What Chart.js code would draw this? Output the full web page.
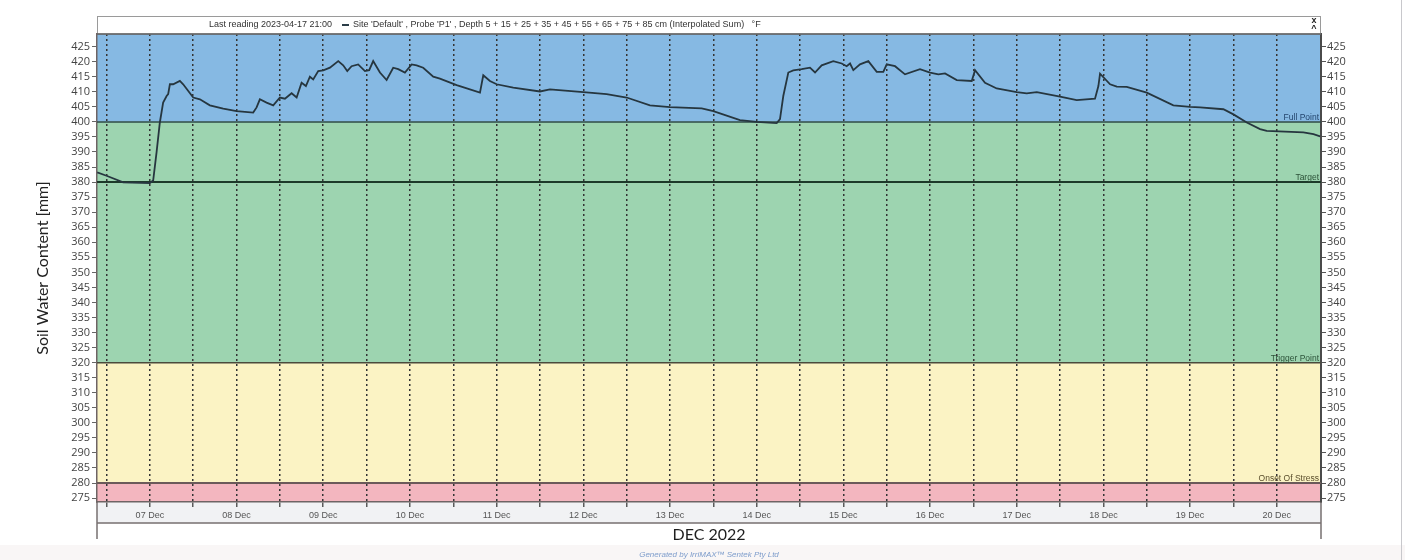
<!DOCTYPE html>
<html>
<head>
<meta charset="utf-8">
<script src="https://cdn.jsdelivr.net/npm/chart.js@4.4.0/dist/chart.umd.min.js"></script>
<style>
    html, body { margin: 0; padding: 0; background: #ffffff; }
    #graficoSoilWaterCanvas { display: block; }
</style>
</head>
<body>
<canvas id="graficoSoilWaterCanvas" width="1405" height="560"></canvas>
<script>
// readings: day of December 2022 (decimal) and soil water content in mm
const readingDays = [6.392, 6.5, 6.692, 7.0, 7.038, 7.077, 7.115, 7.153, 7.193, 7.211, 7.231, 7.269, 7.346, 7.384, 7.5, 7.577, 7.692, 7.846, 8.0, 8.192,
    8.231, 8.269, 8.346, 8.423, 8.5, 8.558, 8.635, 8.693, 8.75, 8.8, 8.846, 8.884, 8.942, 9.0, 9.077, 9.173, 9.23, 9.277, 9.327, 9.403,
    9.481, 9.53, 9.576, 9.654, 9.731, 9.807, 9.865, 9.942, 10.02, 10.077, 10.153, 10.269, 10.346, 10.539, 10.808, 10.846, 10.923, 11.0, 11.192, 11.5,
    11.615, 12.0, 12.269, 12.5, 12.769, 13.0, 13.366, 13.5, 13.807, 14.0, 14.231, 14.269, 14.307, 14.365, 14.422, 14.519, 14.615, 14.673, 14.75, 14.884,
    14.981, 15.038, 15.077, 15.115, 15.192, 15.288, 15.385, 15.461, 15.5, 15.596, 15.711, 15.884, 16.0, 16.096, 16.173, 16.308, 16.481, 16.519, 16.634, 16.769,
    17.0, 17.115, 17.231, 17.5, 17.692, 17.903, 17.942, 17.961, 18.077, 18.154, 18.269, 18.5, 18.807, 19.0, 19.115, 19.384, 19.5, 19.654, 19.807, 19.884,
    20.307, 20.423, 20.5]

const soilWaterValues = [383.2, 382.1, 379.9, 379.7, 380.5, 389.9, 399.8, 406.4, 408.6, 409.2, 412.5, 412.5, 413.6, 412.5, 408.1, 407.5, 405.5, 404.4, 403.6, 403.1,
    404.8, 407.5, 406.4, 405.5, 408.1, 407.7, 409.5, 408.1, 413.0, 411.9, 415.0, 414.1, 416.9, 417.1, 418.0, 420.2, 418.8, 416.9, 418.5, 419.1,
    416.9, 417.2, 420.2, 416.4, 413.9, 418.0, 417.5, 416.4, 419.1, 418.8, 418.0, 415.0, 414.4, 412.2, 409.7, 415.5, 413.6, 412.5, 411.4, 410.1,
    410.8, 409.9, 409.2, 408.1, 405.5, 404.9, 404.5, 403.6, 400.6, 400.0, 399.6, 400.9, 408.6, 416.4, 417.1, 417.5, 418.0, 416.4, 418.8, 420.2,
    419.4, 418.5, 419.4, 417.2, 419.1, 420.2, 416.6, 416.6, 419.1, 418.5, 415.8, 417.5, 416.4, 415.8, 416.1, 413.9, 413.6, 417.2, 413.0, 411.1,
    409.9, 409.5, 409.9, 408.4, 407.2, 407.7, 411.9, 416.0, 412.5, 411.7, 411.6, 409.7, 405.5, 405.0, 404.8, 404.2, 402.5, 399.8, 397.6, 397.0,
    396.5, 395.9, 395.2]

// x axis: day numbers with a label, y axis tick values
const tickDays = [7, 8, 9, 10, 11, 12, 13, 14, 15, 16, 17, 18, 19, 20]
const tickDayLabels = ['07 Dec', '08 Dec', '09 Dec', '10 Dec', '11 Dec', '12 Dec', '13 Dec', '14 Dec', '15 Dec', '16 Dec', '17 Dec', '18 Dec', '19 Dec', '20 Dec']
const yTickValues = [275, 280, 285, 290, 295, 300, 305, 310, 315, 320, 325, 330, 335, 340, 345, 350, 355, 360, 365, 370, 375, 380, 385, 390, 395, 400, 405, 410, 415, 420, 425]

// refill / stress thresholds
const thresholdValues = [400, 380, 320, 280]
const thresholdNames = ['Full Point', 'Target', 'Trigger Point', 'Onset Of Stress']

const yMin = 273.7
const yMax = 429.2
const xMin = 6.39
const xMax = 20.51

const thresholdStyles = [
    { color: '#2f4b47', width: 1.5, text: '#24456d' },
    { color: '#1d3a2a', width: 2, text: '#2c5238' },
    { color: '#4b4a3c', width: 1.5, text: '#2c5238' },
    { color: '#6b5a5a', width: 2, text: '#5a4e2c' }
]
const bandFills = ['#86b9e3', '#9dd4b0', '#fbf3c4', '#f3b6bf']

const chartDecorations = {
    id: 'chartDecorations',
    beforeDraw: function (chart) {
        const ctx = chart.ctx
        const area = chart.chartArea
        const y = chart.scales.y
        ctx.save()
        ctx.fillStyle = '#ffffff'
        ctx.fillRect(0, 0, chart.width, chart.height)
        ctx.fillStyle = '#f9f6f6'
        ctx.fillRect(0, 545, chart.width, chart.height - 545)

        // coloured zones: above full point, full..trigger, trigger..stress, below stress
        let edges = [area.top, y.getPixelForValue(thresholdValues[0]), y.getPixelForValue(thresholdValues[2]), y.getPixelForValue(thresholdValues[3]), area.bottom]
        for (let i = 0; i < bandFills.length; i++) {
            ctx.fillStyle = bandFills[i]
            ctx.fillRect(area.left, edges[i], area.right - area.left, edges[i + 1] - edges[i])
        }

        // strip under the plot holding the day labels
        ctx.fillStyle = '#f1f2f4'
        ctx.fillRect(area.left, area.bottom, area.right - area.left, 21)
        ctx.restore()
    },
    beforeDatasetsDraw: function (chart) {
        const ctx = chart.ctx
        const area = chart.chartArea
        const y = chart.scales.y
        ctx.save()
        for (let i = 0; i < thresholdValues.length; i++) {
            let py = y.getPixelForValue(thresholdValues[i])
            ctx.strokeStyle = thresholdStyles[i].color
            ctx.lineWidth = thresholdStyles[i].width
            ctx.beginPath()
            ctx.moveTo(area.left, py)
            ctx.lineTo(area.right, py)
            ctx.stroke()

            ctx.fillStyle = thresholdStyles[i].text
            ctx.font = '8.5px "Liberation Sans", Arial, sans-serif'
            ctx.textAlign = 'right'
            ctx.textBaseline = 'alphabetic'
            ctx.fillText(thresholdNames[i], area.right - 2, py - 2)
        }
        ctx.restore()
    },
    afterDraw: function (chart) {
        const ctx = chart.ctx
        const area = chart.chartArea
        ctx.save()

        // header box with the probe description
        ctx.fillStyle = '#ffffff'
        ctx.fillRect(area.left, 16, area.right - area.left, area.top - 16)
        ctx.strokeStyle = '#9a9a9a'
        ctx.lineWidth = 1
        ctx.strokeRect(area.left + 0.5, 16.5, area.right - area.left - 1, area.top - 16.5)
        ctx.strokeStyle = '#5e5e5e'
        ctx.lineWidth = 1.5
        ctx.beginPath()
        ctx.moveTo(area.left, area.top)
        ctx.lineTo(area.right, area.top)
        ctx.stroke()

        ctx.fillStyle = '#333333'
        ctx.font = '9px "Liberation Sans", Arial, sans-serif'
        ctx.textAlign = 'left'
        ctx.textBaseline = 'middle'
        ctx.fillText('Last reading 2023-04-17 21:00', 209, 25)
        ctx.fillStyle = '#2b3d48'
        ctx.fillRect(342, 24, 7, 2)
        ctx.fillStyle = '#333333'
        ctx.fillText("Site 'Default' , Probe 'P1' , Depth 5 + 15 + 25 + 35 + 45 + 55 + 65 + 75 + 85 cm (Interpolated Sum)   \u00b0F", 353, 25)

        ctx.font = 'bold 9px "Liberation Sans", Arial, sans-serif'
        ctx.textAlign = 'center'
        ctx.fillStyle = '#222222'
        ctx.fillText('x', area.right - 7, 21)
        ctx.fillText('^', area.right - 7, 29)

        // y axis title
        ctx.save()
        ctx.translate(43, (area.top + area.bottom) / 2)
        ctx.rotate(-Math.PI / 2)
        ctx.font = '16px Lato, "Open Sans", sans-serif'
        ctx.fillStyle = '#222222'
        ctx.textAlign = 'center'
        ctx.textBaseline = 'middle'
        ctx.fillText('Soil Water Content [mm]', 0, 0)
        ctx.restore()

        // lines framing the date band and month caption
        ctx.strokeStyle = '#777070'
        ctx.lineWidth = 1.5
        ctx.beginPath()
        ctx.moveTo(area.left, area.bottom + 21)
        ctx.lineTo(area.right, area.bottom + 21)
        ctx.moveTo(area.left, area.bottom)
        ctx.lineTo(area.left, 539)
        ctx.moveTo(area.right, area.bottom)
        ctx.lineTo(area.right, 539)
        ctx.stroke()

        ctx.fillStyle = '#1e1e1e'
        ctx.font = '16px Lato, "Open Sans", sans-serif'
        ctx.textAlign = 'center'
        ctx.textBaseline = 'middle'
        ctx.fillText('DEC 2022', (area.left + area.right) / 2, 535)

        ctx.fillStyle = '#7d9ccb'
        ctx.font = 'italic 8px "Liberation Sans", Arial, sans-serif'
        ctx.fillText('Generated by IrriMAX\u2122 Sentek Pty Ltd', (area.left + area.right) / 2, 555)

        // outer frame on the right
        ctx.strokeStyle = '#c8c8cc'
        ctx.lineWidth = 1
        ctx.beginPath()
        ctx.moveTo(1401.5, 0)
        ctx.lineTo(1401.5, chart.height)
        ctx.stroke()
        ctx.restore()
    }
}

function criarGraficoSoilWater() {
    let dataPoints = []
    for (let i = 0; i < readingDays.length; i++) {
        dataPoints.push({ x: readingDays[i], y: soilWaterValues[i] })
    }

    const graficoSoilWater = new Chart(document.getElementById('graficoSoilWaterCanvas'), {
        type: 'line',
        data: {
            datasets: [{
                label: "Site 'Default' , Probe 'P1'",
                data: dataPoints,
                borderColor: '#26363f',
                borderWidth: 1.8,
                pointRadius: 0,
                pointHoverRadius: 0,
                tension: 0,
                fill: false
            }]
        },
        options: {
            responsive: false,
            animation: false,
            devicePixelRatio: 1,
            layout: {
                padding: { left: 0, right: 0, top: 34, bottom: 0 }
            },
            plugins: {
                legend: { display: false },
                tooltip: { enabled: false }
            },
            scales: {
                x: {
                    type: 'linear',
                    position: 'bottom',
                    min: xMin,
                    max: xMax,
                    afterFit: function (scale) { scale.height = 58 },
                    afterBuildTicks: function (scale) {
                        let ticks = []
                        for (let i = 0; i < tickDays.length; i++) {
                            ticks.push({ value: tickDays[i] - 0.5 })
                            ticks.push({ value: tickDays[i] })
                        }
                        scale.ticks = ticks
                    },
                    ticks: {
                        autoSkip: false,
                        maxRotation: 0,
                        padding: 3,
                        color: '#555555',
                        font: { family: '"Liberation Sans", Arial, sans-serif', size: 9 },
                        callback: function (value, index, values) {
                            let k = tickDays.indexOf(value)
                            return k >= 0 ? tickDayLabels[k] : ''
                        }
                    },
                    grid: {
                        color: '#333333',
                        lineWidth: 1.5,
                        tickLength: 5,
                        tickColor: '#5a5a5a',
                        tickWidth: 1.5
                    },
                    border: {
                        color: '#6e6464',
                        width: 1.5,
                        dash: [2, 3]
                    }
                },
                y: {
                    type: 'linear',
                    position: 'left',
                    min: yMin,
                    max: yMax,
                    afterFit: function (scale) { scale.width = 97 },
                    afterBuildTicks: function (scale) {
                        scale.ticks = yTickValues.map(v => ({ value: v }))
                    },
                    ticks: {
                        autoSkip: false,
                        padding: 2,
                        color: '#444444',
                        font: { family: '"Open Sans", sans-serif', size: 11 }
                    },
                    grid: {
                        drawOnChartArea: false,
                        tickLength: 5,
                        tickColor: '#666666'
                    },
                    border: { color: '#6e6464', width: 1.5 }
                },
                y2: {
                    type: 'linear',
                    position: 'right',
                    min: yMin,
                    max: yMax,
                    afterFit: function (scale) { scale.width = 84 },
                    afterBuildTicks: function (scale) {
                        scale.ticks = yTickValues.map(v => ({ value: v }))
                    },
                    ticks: {
                        autoSkip: false,
                        padding: 1,
                        color: '#444444',
                        font: { family: '"Open Sans", sans-serif', size: 11 }
                    },
                    grid: {
                        drawOnChartArea: false,
                        tickLength: 5,
                        tickColor: '#555555'
                    },
                    border: { color: '#4a4a4a', width: 2 }
                }
            }
        },
        plugins: [chartDecorations]
    })
    return graficoSoilWater
}

criarGraficoSoilWater()
</script>
</body>
</html>
